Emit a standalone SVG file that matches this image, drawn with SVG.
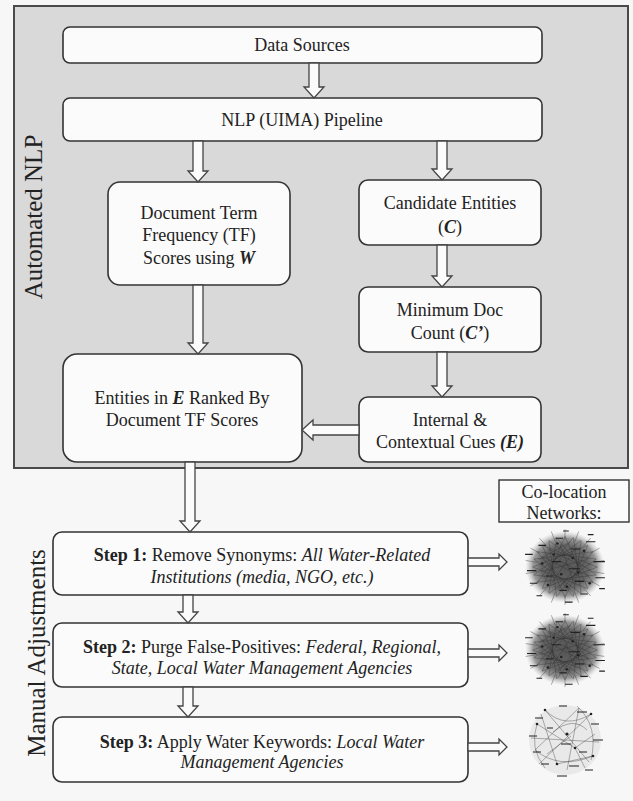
<svg xmlns="http://www.w3.org/2000/svg" width="633" height="801" viewBox="0 0 633 801">
<defs>
<style>
.bg{fill:#f7f7f7}
.panel{fill:#d9d9d9;stroke:#4a4a4a;stroke-width:2}
.box{fill:#fbfbfb;stroke:#333;stroke-width:1.6}
.lbl{fill:#fbfbfb;stroke:#333;stroke-width:1.4}
.arr{fill:#fbfbfb;stroke:#444;stroke-width:1.3;stroke-linejoin:miter}
text{font-family:"Liberation Serif","Times New Roman",serif;font-size:18px;fill:#222;text-anchor:middle}
.side{font-size:25px}
.b{font-weight:bold}
.i{font-style:italic}
.bi{font-weight:bold;font-style:italic}
.ch{fill:none;stroke:#2a2a2a;stroke-width:0.6;stroke-opacity:0.6}
.sp{fill:none;stroke:#444;stroke-width:0.7;stroke-opacity:0.7}
.dash{fill:none;stroke:#222;stroke-width:1.2}
.dot{fill:#222}
</style>
<radialGradient id="blob" cx="0.5" cy="0.5" r="0.5">
<stop offset="0" stop-color="#555"/>
<stop offset="0.6" stop-color="#676767"/>
<stop offset="0.8" stop-color="#858585" stop-opacity="0.85"/>
<stop offset="1" stop-color="#bbb" stop-opacity="0"/>
</radialGradient>
<g id="dense">
<ellipse cx="0" cy="0" rx="42" ry="40" fill="url(#blob)"/>
<path class="ch" d="M34 0L-24 24M32.8 8.8L-29.4 17M29.4 17L-32.8 8.8M24 24L-34 0M17 29.4L-32.8 -8.8M8.8 32.8L-29.4 -17M0 34L-24 -24M-8.8 32.8L-17 -29.4M-17 29.4L-8.8 -32.8M-24 24L0 -34M-29.4 17L8.8 -32.8M-32.8 8.8L17 -29.4M-34 0L24 -24M-32.8 -8.8L29.4 -17M-29.4 -17L32.8 -8.8M-24 -24L34 0M-17 -29.4L32.8 8.8M-8.8 -32.8L29.4 17M0 -34L24 24M8.8 -32.8L17 29.4M17 -29.4L8.8 32.8M24 -24L0 34M29.4 -17L-8.8 32.8M32.8 -8.8L-17 29.4M-20 -10L18 12M-5 -25L10 20M-25 5L22 -8M12 -22L-14 18M-18 -20L20 0M0 -15L-22 12M15 -5L-8 26M-28 -8L6 -28M25 10L-4 -6M8 28L-24 -12"/>
<path class="sp" d="M29.5 5.2L41.4 7.3M26 15L36.4 21M19.3 23L27 32.2M10.3 28.2L14.4 39.5M0 30L0 42M-10.3 28.2L-14.4 39.5M-19.3 23L-27 32.2M-26 15L-36.4 21M-29.5 5.2L-41.4 7.3M-29.5 -5.2L-41.4 -7.3M-26 -15L-36.4 -21M-19.3 -23L-27 -32.2M-10.3 -28.2L-14.4 -39.5M0 -30L0 -42M10.3 -28.2L14.4 -39.5M19.3 -23L27 -32.2M26 -15L36.4 -21M29.5 -5.2L41.4 -7.3"/>
<path class="dash" d="M-42 -14h8M-40 4h10M-37 18h8M22 -28h10M30 -6h12M32 12h10M-10 -32h8M6 -20h10M-14 -6h10M4 2h12M-20 10h8M10 16h10M-6 26h8M16 30h8M-28 -24h8M36 24h6M-2 -40h6M0 39h8M-30 32h6M24 -36h6"/>
<g class="dot">
<circle cx="-12" cy="-14" r="1.4"/><circle cx="8" cy="-10" r="1.4"/><circle cx="-4" cy="8" r="1.4"/><circle cx="14" cy="6" r="1.4"/><circle cx="-18" cy="20" r="1.4"/><circle cx="20" cy="-18" r="1.4"/><circle cx="2" cy="22" r="1.4"/><circle cx="-24" cy="-4" r="1.4"/><circle cx="26" cy="18" r="1.4"/><circle cx="-8" cy="-26" r="1.4"/>
</g>
</g>
</defs>

<rect class="bg" x="0" y="0" width="633" height="801"/>
<rect id="automated-panel" class="panel" x="14" y="6" width="614" height="462"/>
<text class="side" transform="translate(42 217) rotate(-90)">Automated NLP</text>
<text class="side" transform="translate(45 653) rotate(-90)">Manual Adjustments</text>

<g id="data-sources">
<rect class="box" x="63" y="27" width="479" height="36" rx="7"/>
<text x="302" y="51">Data Sources</text>
</g>
<g id="nlp-pipeline">
<rect class="box" x="63" y="98" width="479" height="43" rx="7"/>
<text x="302" y="126">NLP (UIMA) Pipeline</text>
</g>
<g id="doc-tf">
<rect class="box" x="108" y="182" width="182" height="103" rx="12"/>
<text x="199" y="219">Document Term</text>
<text x="199" y="241">Frequency (TF)</text>
<text x="199" y="264">Scores using <tspan class="bi">W</tspan></text>
</g>
<g id="candidate">
<rect class="box" x="359" y="180" width="182" height="65" rx="9"/>
<text x="450" y="209">Candidate Entities</text>
<text x="450" y="233">(<tspan class="bi">C</tspan>)</text>
</g>
<g id="min-doc">
<rect class="box" x="359" y="287" width="182" height="65" rx="9"/>
<text x="450" y="316">Minimum Doc</text>
<text x="450" y="339">Count (<tspan class="bi">C’</tspan>)</text>
</g>
<g id="internal-cues">
<rect class="box" x="359" y="397" width="182" height="65" rx="9"/>
<text x="450" y="426">Internal &amp;</text>
<text x="450" y="448">Contextual Cues <tspan class="bi">(E)</tspan></text>
</g>
<g id="entities-ranked">
<rect class="box" x="63" y="354" width="239" height="108" rx="14"/>
<text x="182" y="404">Entities in <tspan class="bi">E</tspan> Ranked By</text>
<text x="182" y="426">Document TF Scores</text>
</g>
<g id="step1">
<rect class="box" x="53" y="532" width="415" height="63" rx="9"/>
<text x="262" y="561"><tspan class="b">Step 1:</tspan> Remove Synonyms: <tspan class="i">All Water-Related</tspan></text>
<text x="262" y="583" class="i">Institutions (media, NGO, etc.)</text>
</g>
<g id="step2">
<rect class="box" x="53" y="623" width="415" height="64" rx="9"/>
<text x="262" y="653"><tspan class="b">Step 2:</tspan> Purge False-Positives: <tspan class="i">Federal, Regional,</tspan></text>
<text x="262" y="674" class="i">State, Local Water Management Agencies</text>
</g>
<g id="step3">
<rect class="box" x="53" y="717" width="415" height="65" rx="9"/>
<text x="262" y="748"><tspan class="b">Step 3:</tspan> Apply Water Keywords: <tspan class="i">Local Water</tspan></text>
<text x="262" y="768" class="i">Management Agencies</text>
</g>
<g id="colocation-label">
<rect class="lbl" x="499" y="480" width="130" height="42"/>
<text x="564" y="498">Co-location</text>
<text x="564" y="519">Networks:</text>
</g>
<g id="network1"><use href="#dense" transform="translate(565 567) scale(0.95 0.9)"/></g>
<g id="network2"><use href="#dense" transform="translate(565 650) scale(0.95 0.88)"/></g>
<g id="network3">
<g transform="translate(565 740)">
<ellipse cx="0" cy="0" rx="36" ry="35" fill="#e0e0e0" fill-opacity="0.6"/>
<path class="ch" d="M-20 -30Q0 -10 26 -26M-28 -16L10 8L30 -6M-30 10Q-6 30 28 16M-24 -26L-8 24M14 -32L2 30M-34 -2L34 2M-20 -30L24 22M26 -26L-26 24M-12 -8Q8 -24 22 -10M-30 10L14 -32M-8 24L28 16M6 -4L-18 14M10 8L20 28M-28 -16Q-36 8 -20 28M12 -34Q34 -14 26 20"/>
<path class="dash" d="M-30 -22h8M-6 -34h8M12 -28h10M26 -16h8M-36 -4h8M28 0h10M-32 12h8M-4 4h10M14 12h8M-24 24h8M4 26h10M-8 36h10M20 30h8M-18 -12h6"/>
<g class="dot"><circle cx="-20" cy="-30" r="1.3"/><circle cx="26" cy="-26" r="1.3"/><circle cx="10" cy="8" r="1.3"/><circle cx="-8" cy="24" r="1.3"/><circle cx="2" cy="-6" r="1.6"/><circle cx="-28" cy="-16" r="1.3"/><circle cx="28" cy="16" r="1.3"/></g>
</g>
</g>

<g id="connectors">
<path class="arr" d="M309 63V87H304L314 98L324 87H319V63Z"/>
<path class="arr" d="M193 141V171H188L198 182L208 171H203V141Z"/>
<path class="arr" d="M437 141V169H432L442 180L452 169H447V141Z"/>
<path class="arr" d="M437 245V276H432L442 287L452 276H447V245Z"/>
<path class="arr" d="M437 352V386H432L442 397L452 386H447V352Z"/>
<path class="arr" d="M193 285V343H188L198 354L208 343H203V285Z"/>
<path class="arr" d="M359 425H313V420L302 430L313 440V435H359Z"/>
<path class="arr" d="M185 462V521H180L190 532L200 521H195V462Z"/>
<path class="arr" d="M183 595V612H178L188 623L198 612H193V595Z"/>
<path class="arr" d="M183 687V706H178L188 717L198 706H193V687Z"/>
<path class="arr" d="M468 558H499V554L507 562L499 570V566H468Z"/>
<path class="arr" d="M468 649H499V645L507 653L499 661V657H468Z"/>
<path class="arr" d="M468 743H499V739L507 747L499 755V751H468Z"/>
</g>
</svg>
